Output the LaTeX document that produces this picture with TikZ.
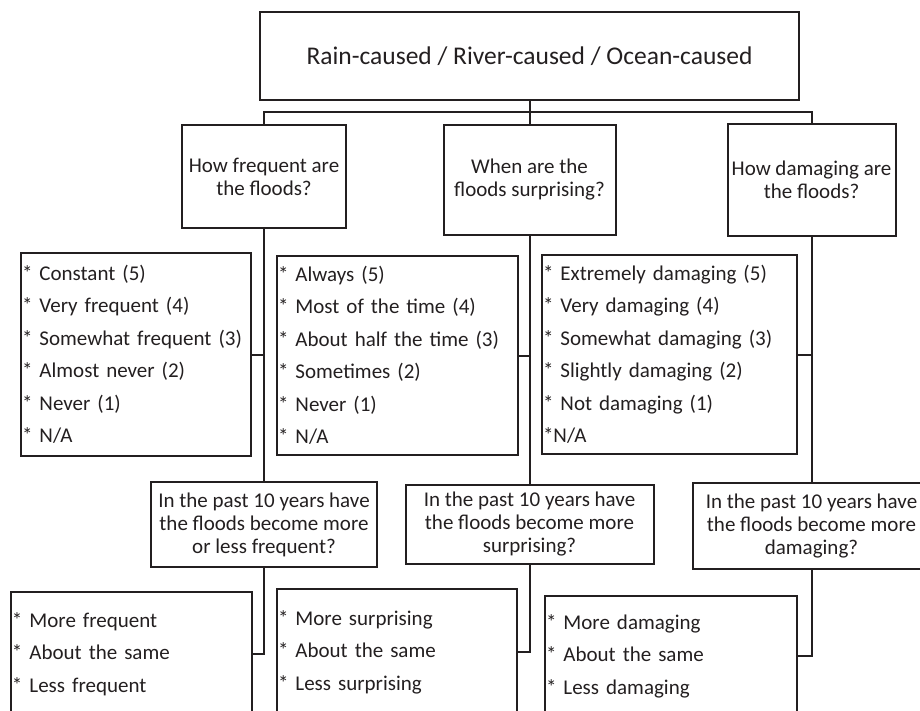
\documentclass[tikz,border=0pt]{standalone}
\usepackage{fontspec}
\setmainfont{Carlito}
\usepackage{tikz}
\usetikzlibrary{positioning}
\definecolor{ink}{RGB}{35,31,32}
\newcommand{\askfont}{\fontsize{21}{23}\selectfont}
\newcommand{\optfont}{\fontsize{21}{32.5}\selectfont}

\begin{document}
\begin{tikzpicture}[x=1pt,y=-1pt,color=ink,line width=2pt,
	question/.style={align=center,font=\askfont,inner xsep=2pt},
	answers/.style={align=left,font=\optfont}]
	\useasboundingbox (0,0) rectangle (920,710);
	\clip (0,0) rectangle (920,710);
	\begin{scope}[every node/.style={rectangle,draw,line width=2pt,inner xsep=1pt,inner ysep=0pt}]
		\node[minimum width=539pt,minimum height=88pt,font=\fontsize{25.5}{30}\selectfont] (top) at (529.5,56) {Rain-caused / River-caused / Ocean-caused};
		\node[question,minimum width=164pt,minimum height=103pt] (Q1) at (264,176.5) {How frequent are\\the floods?};
		\node[question,minimum width=172pt,minimum height=110pt] (Q2) at (529.5,180) {When are the\\floods surprising?};
		\node[question,minimum width=168pt,minimum height=112pt] (Q3) at (811.5,180) {How damaging are\\the floods?};
		\node[answers,text width=228pt,minimum height=203pt] (Q1list) at (136,354.5) {{*} Constant (5)\\{*} Very frequent (4)\\{*} Somewhat frequent (3)\\{*} Almost never (2)\\{*} Never (1)\\{*} N/A};
		\node[answers,text width=239pt,minimum height=199pt] (Q2list) at (397.5,355.5) {{*} Always (5)\\{*} Most of the time (4)\\{*} About half the time (3)\\{*} Sometimes (2)\\{*} Never (1)\\{*} N/A};
		\node[answers,text width=253pt,minimum height=199pt] (Q3list) at (669.5,354.5) {{*} Extremely damaging (5)\\{*} Very damaging (4)\\{*} Somewhat damaging (3)\\{*} Slightly damaging (2)\\{*} Not damaging (1)\\{*}N/A};
		\node[question,minimum width=226pt,minimum height=85pt] (P1) at (264,524.5) {In the past 10 years have\\the floods become more\\or less frequent?};
		\node[question,minimum width=248pt,minimum height=79pt] (P2) at (529.5,524.5) {In the past 10 years have\\the floods become more\\surprising?};
		\node[question,minimum width=238pt,minimum height=86pt] (P3) at (811.5,526) {In the past 10 years have\\the floods become more\\damaging?};
		\node[answers,text width=239pt,minimum height=124pt] (P1list) at (131.5,654) {{*} More frequent\\{*} About the same\\{*} Less frequent};
		\node[answers,text width=238pt,minimum height=126pt] (P2list) at (397,652) {{*} More surprising\\{*} About the same\\{*} Less surprising};
		\node[answers,text width=250pt,minimum height=120pt] (P3list) at (671,656) {{*} More damaging\\{*} About the same\\{*} Less damaging};
	\end{scope}

	\begin{scope}
	\coordinate (split) at (529.5,112);
	\draw (top) -- (split);
	\draw (Q1.north) |- (split) -| (Q3.north);
	\draw (split) -- (Q2.north);
	\draw (Q1) -- (P1);
	\draw (Q2) -- (P2);
	\draw (Q3) -- (P3);
	\draw (Q1list.east) -- (Q1list.east -| Q1.south);
	\draw (Q2list.east) -- (Q2list.east -| Q2.south);
	\draw (Q3list.east) -- (Q3list.east -| Q3.south);
	\draw (P1.south) |- (P1list.east);
	\draw (P2.south) |- (P2list.east);
	\draw (P3.south) |- (P3list.east);
	\end{scope}
\end{tikzpicture}
\end{document}
